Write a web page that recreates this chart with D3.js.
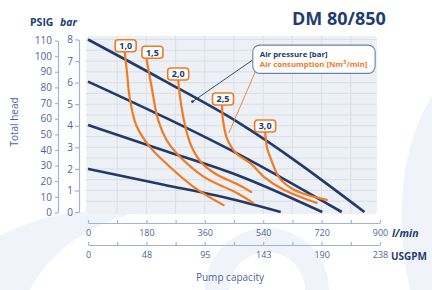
<!DOCTYPE html>
<html>
<head>
<meta charset="utf-8">
<script src="https://cdn.jsdelivr.net/npm/d3@7"></script>
<style>
  body { margin: 0; background: #fff; }
  svg { display: block; font-family: "Open Sans", "DejaVu Sans", sans-serif; }
</style>
</head>
<body>
<svg width="432" height="290"></svg>
<script>
// air pressure lines (flow in l/min, head in bar)
let pressFlow = [
  [0, 230, 459, 852],
  [0, 253, 459, 782],
  [0, 227, 459, 722],
  [0, 230, 470, 594]
];
let pressHead = [
  [8.0, 6.13, 4.19, 0],
  [6.05, 4.27, 2.72, 0],
  [4.03, 2.89, 1.72, 0],
  [2.0, 1.28, 0.5, 0]
];

// air consumption curves, Nm3/min
let airLabels = ["1,0", "1,5", "2,0", "2,5", "3,0"];
let airFlow = [
  [113, 121, 128, 149, 190, 252, 325, 418],
  [180, 195, 216, 242, 273, 356, 459, 509],
  [278, 285, 299, 317, 348, 394, 459, 503],
  [413, 416, 428, 456, 503, 543, 605, 705],
  [546, 552, 565, 590, 636, 736]
];
let airHead = [
  [7.43, 6.35, 5.35, 4.01, 3.03, 2.10, 1.17, 0.32],
  [7.13, 5.89, 4.27, 3.34, 2.72, 1.64, 0.88, 0.42],
  [6.12, 5.19, 4.03, 3.11, 2.32, 1.76, 1.30, 0.93],
  [4.96, 4.27, 3.43, 2.74, 2.23, 1.62, 1.02, 0.42],
  [3.71, 2.97, 2.41, 1.58, 1.02, 0.56]
];

let lpmTicks = d3.range(0, 901, 90);
let usgpmLabels = [0, 48, 95, 143, 190, 238];
let psiTicks = d3.range(0, 111, 10);
let barTicks = d3.range(0, 9, 1);

let navy = "#22396b";
let orange = "#f27a22";
let axisColor = "#a3b3d1";
let textColor = "#4d659a";

let svg = d3.select("svg");

let x = d3.scaleLinear().domain([0, 900]).range([88, 380]);
let y = d3.scaleLinear().domain([0, 8]).range([212, 39.5]);
let yPsi = d3.scaleLinear().domain([0, 110]).range([212.5, 40.5]);

// faint watermark shapes in the back
let wm = svg.append("g").attr("fill", "#f0f4fa");
wm.append("path").attr("d", "M0,236 C40,214 90,206 130,214 C90,226 50,250 30,290 L0,290 Z");
wm.append("path").attr("d", "M205,290 A62,62 0 0 1 329,290 L305,290 A38,38 0 0 0 229,290 Z");
wm.append("path").attr("d", "M432,96 C404,140 392,210 410,290 L432,290 Z");

// plot background + grid
svg.append("rect")
  .attr("x", x(0) - 2)
  .attr("y", y(8) - 3.5)
  .attr("width", x(900) - 3 - (x(0) - 2))
  .attr("height", y(0) + 2 - (y(8) - 3.5))
  .attr("rx", 3)
  .attr("fill", "#edf0f5");

svg.append("g").selectAll("line")
  .data(d3.range(90, 900, 90))
  .enter().append("line")
  .attr("x1", d => x(d)).attr("x2", d => x(d))
  .attr("y1", y(8) - 3.5).attr("y2", y(0) + 2)
  .attr("stroke", "#d9dee8")
  .attr("stroke-width", 1);

svg.append("g").selectAll("line")
  .data(d3.range(0.5, 8.01, 0.5))
  .enter().append("line")
  .attr("x1", x(0) - 2).attr("x2", x(900) - 3)
  .attr("y1", d => y(d)).attr("y2", d => y(d))
  .attr("stroke", "#d9dee8")
  .attr("stroke-width", 1);

let styleAxis = size => g => {
  g.select(".domain").attr("stroke", axisColor).attr("stroke-width", 1.2);
  g.selectAll(".tick line").attr("stroke", axisColor).attr("stroke-width", 1.2);
  g.selectAll(".tick text")
    .attr("fill", textColor)
    .attr("font-size", size)
    .attr("font-family", "'Open Sans', sans-serif");
};

// left axes
svg.append("g")
  .attr("transform", "translate(58,0)")
  .call(d3.axisLeft(yPsi).tickValues(psiTicks).tickSize(3).tickPadding(3).tickSizeOuter(0))
  .call(styleAxis(10));

svg.append("g")
  .attr("transform", "translate(79,0)")
  .call(d3.axisLeft(y).tickValues(barTicks).tickSize(4).tickPadding(2).tickSizeOuter(0))
  .call(styleAxis(10));

// bottom axes
svg.append("g")
  .attr("transform", "translate(0,223)")
  .call(d3.axisBottom(x).tickValues(lpmTicks).tickSizeInner(-3).tickSizeOuter(0).tickPadding(7)
    .tickFormat(d => d % 180 === 0 ? d : ""))
  .call(styleAxis(9));

svg.append("g")
  .attr("transform", "translate(0,245)")
  .call(d3.axisBottom(x).tickValues(lpmTicks).tickSizeInner(-3).tickSizeOuter(0).tickPadding(7)
    .tickFormat(d => d % 180 === 0 ? usgpmLabels[d / 180] : ""))
  .call(styleAxis(9));

// pressure lines
let pressLine = d3.line()
  .x(d => x(d[0]))
  .y(d => y(d[1]))
  .curve(d3.curveMonotoneX);

svg.append("g").selectAll("path")
  .data(pressFlow.map((f, i) => f.map((v, j) => [v, pressHead[i][j]])))
  .enter().append("path")
  .attr("d", pressLine)
  .attr("fill", "none")
  .attr("stroke", navy)
  .attr("stroke-width", 2.6);

// air consumption curves
let airLine = d3.line()
  .x(d => x(d[0]))
  .y(d => y(d[1]))
  .curve(d3.curveCatmullRom.alpha(0.5));

let airData = airFlow.map((f, i) => f.map((v, j) => [v, airHead[i][j]]));

svg.append("g").selectAll("path")
  .data(airData)
  .enter().append("path")
  .attr("d", airLine)
  .attr("fill", "none")
  .attr("stroke", orange)
  .attr("stroke-width", 2.2)
  .attr("stroke-linecap", "round");

// curve tags
let tagDx = [1, 6, 0, 1, 0];
let tags = svg.append("g").selectAll("g")
  .data(airData)
  .enter().append("g")
  .attr("transform", (d, i) => "translate(" + (x(d[0][0]) + tagDx[i]) + "," + (y(d[0][1]) - 6) + ")");

tags.append("rect")
  .attr("x", -10.5).attr("y", -6)
  .attr("width", 21).attr("height", 12)
  .attr("rx", 3)
  .attr("fill", "#fff")
  .attr("stroke", orange)
  .attr("stroke-width", 1.6);

tags.append("text")
  .attr("text-anchor", "middle")
  .attr("y", 3.3)
  .attr("font-size", 9)
  .attr("font-weight", "bold")
  .attr("fill", navy)
  .text((d, i) => airLabels[i]);

// legend
let lg = svg.append("g");
lg.append("line")
  .attr("x1", x(522)).attr("y1", y(7.2))
  .attr("x2", x(322)).attr("y2", y(5.12))
  .attr("stroke", navy).attr("stroke-width", 0.9);
lg.append("circle")
  .attr("cx", x(322)).attr("cy", y(5.12)).attr("r", 1.3)
  .attr("fill", navy);
lg.append("line")
  .attr("x1", x(527)).attr("y1", y(6.9))
  .attr("x2", x(434)).attr("y2", y(3.66))
  .attr("stroke", orange).attr("stroke-width", 0.9);
lg.append("rect")
  .attr("x", x(508)).attr("y", y(7.74))
  .attr("width", x(885) - x(508)).attr("height", y(6.43) - y(7.74))
  .attr("rx", 7)
  .attr("fill", "#fff")
  .attr("stroke", "#6f80a8")
  .attr("stroke-width", 1.1);
lg.append("text")
  .attr("x", x(508) + 7).attr("y", 56.5)
  .attr("font-size", 7.8).attr("font-weight", "bold")
  .attr("fill", navy)
  .text("Air pressure [bar]");
let t2 = lg.append("text")
  .attr("x", x(508) + 7).attr("y", 67)
  .attr("font-size", 7.8).attr("font-weight", "bold")
  .attr("fill", orange);
t2.append("tspan").text("Air consumption [Nm");
t2.append("tspan").attr("dy", -3).attr("font-size", 6).text("3");
t2.append("tspan").attr("dy", 3).text("/min]");

// titles and axis captions
svg.append("text")
  .attr("x", 292).attr("y", 25)
  .attr("font-size", 18).attr("font-weight", "bold")
  .attr("fill", "#1f3d74")
  .text("DM 80/850");

svg.append("text")
  .attr("x", 30).attr("y", 26)
  .attr("font-size", 10.5).attr("font-weight", "bold")
  .attr("fill", "#1f3d74")
  .text("PSIG");
svg.append("text")
  .attr("x", 60).attr("y", 26)
  .attr("font-size", 10.5).attr("font-weight", "bold").attr("font-style", "italic")
  .attr("fill", "#1f3d74")
  .text("bar");

svg.append("text")
  .attr("transform", "translate(18,122) rotate(-90)")
  .attr("text-anchor", "middle")
  .attr("font-size", 10)
  .attr("fill", textColor)
  .text("Total head");

svg.append("text")
  .attr("x", 230).attr("y", 281)
  .attr("text-anchor", "middle")
  .attr("font-size", 10)
  .attr("fill", textColor)
  .text("Pump capacity");

svg.append("text")
  .attr("x", 392).attr("y", 236.5)
  .attr("font-size", 10.5).attr("font-weight", "bold").attr("font-style", "italic")
  .attr("fill", "#1f3d74")
  .text("l/min");

svg.append("text")
  .attr("x", 391).attr("y", 259.5)
  .attr("font-size", 10).attr("font-weight", "bold")
  .attr("fill", "#1f3d74")
  .text("USGPM");
</script>
</body>
</html>
